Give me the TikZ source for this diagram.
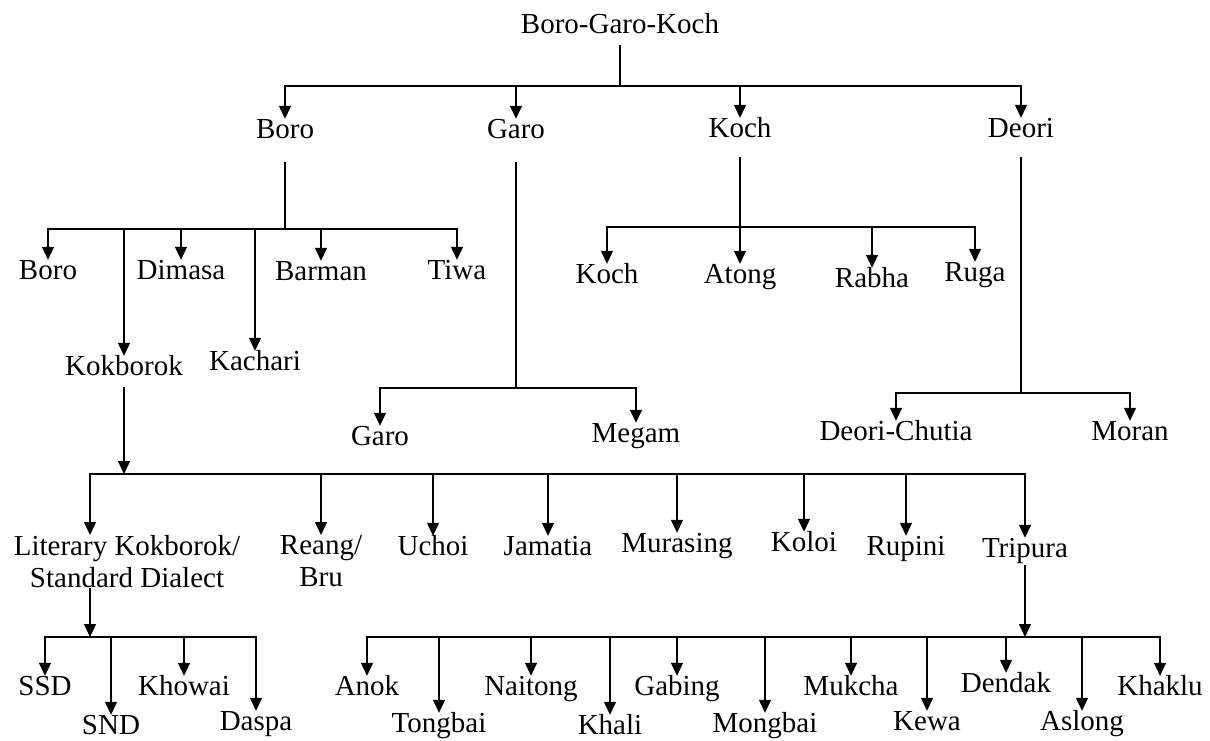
\documentclass[tikz,border=0pt]{standalone}
\usepackage{fontspec}
\setmainfont{Liberation Serif}
\usetikzlibrary{arrows.meta}
\tikzstyle{arrow} = [line width=1.3pt,-{Triangle[width=12pt,length=13pt]}]
\tikzstyle{stem} = [line width=1.3pt]
\tikzstyle{lang} = [anchor=base, inner sep=0pt, text height=19pt, text depth=6pt]
\tikzstyle{lang_2} = [anchor=north, inner sep=0pt, align=center]

\begin{document}
\begin{tikzpicture}[x=1pt, y=-1pt, font=\fontsize{29}{32}\selectfont]
			\useasboundingbox (0,0) rectangle (1210,740);
			% Familia e ramos principais
			\node (BGK) [lang] at (620,33) {Boro-Garo-Koch};
			\node (Boro_1) [lang] at (285,138) {Boro};
			\node (Garo_1) [lang] at (516,138) {Garo};
			\node (Koch_1) [lang] at (740,137) {Koch};
			\node (Deori_1) [lang] at (1021,137) {Deori};

			% Ramo Boro
			\node (Boro_2) [lang] at (48,279) {Boro};
			\node (Dimasa) [lang] at (181,279) {Dimasa};
			\node (Barman) [lang] at (321,280) {Barman};
			\node (Tiwa) [lang] at (457,279) {Tiwa};
			\node (Kokborok) [lang] at (124,375) {Kokborok};
			\node (Kachari) [lang] at (255,370) {Kachari};

			% Ramo Garo e Koch
			\node (Garo_2) [lang] at (380,445) {Garo};
			\node (Megam) [lang] at (636,442) {Megam};
			\node (Koch_2) [lang] at (607,283) {Koch};
			\node (Atong) [lang] at (740,283) {Atong};
			\node (Rabha) [lang] at (872,287) {Rabha};
			\node (Ruga) [lang] at (975,281) {Ruga};

			% Ramo Deori
			\node (Deori_Chutia) [lang] at (896,440) {Deori-Chutia};
			\node (Moran) [lang] at (1130,440) {Moran};

			% Dialetos Kokborok
			\node (Literary) [lang_2] at (127,535) {Literary Kokborok/\\Standard Dialect};
			\node (Reang) [lang_2] at (321,535) {Reang/\\Bru};
			\node (Uchoi) [lang] at (433,555) {Uchoi};
			\node (Jamatia) [lang] at (548,555) {Jamatia};
			\node (Murasing) [lang] at (677,552) {Murasing};
			\node (Koloi) [lang] at (804,551) {Koloi};
			\node (Rupini) [lang] at (906,555) {Rupini};
			\node (Tripura) [lang] at (1025,557) {Tripura};

			% Subdialetos
			\node (SSD) [lang] at (45,695) {SSD};
			\node (SND) [lang] at (111,734) {SND};
			\node (Khowai) [lang] at (184,695) {Khowai};
			\node (Daspa) [lang] at (256,730) {Daspa};
			\node (Anok) [lang] at (367,695) {Anok};
			\node (Tongbai) [lang] at (439,732) {Tongbai};
			\node (Naitong) [lang] at (531,695) {Naitong};
			\node (Khali) [lang] at (610,734) {Khali};
			\node (Gabing) [lang] at (677,695) {Gabing};
			\node (Mongbai) [lang] at (765,732) {Mongbai};
			\node (Mukcha) [lang] at (851,695) {Mukcha};
			\node (Kewa) [lang] at (927,730) {Kewa};
			\node (Dendak) [lang] at (1006,692) {Dendak};
			\node (Aslong) [lang] at (1082,730) {Aslong};
			\node (Khaklu) [lang] at (1160,695) {Khaklu};

			% Barras
			\coordinate (topBar) at (620,86);
			\coordinate (boroBar) at (285,229);
			\coordinate (garoBar) at (516,388);
			\coordinate (kochBar) at (740,227);
			\coordinate (deoriBar) at (1021,393);
			\coordinate (kokBar) at (124,474);
			\coordinate (litBar) at (90,637);
			\coordinate (tripBar) at (1025,637);

			% Connections
			\draw [stem, shorten <=6pt] (BGK) -- (topBar);
			\draw [arrow] (topBar) -| (Boro_1);
			\draw [arrow] (topBar) -| (Garo_1);
			\draw [arrow] (topBar) -| (Koch_1);
			\draw [arrow] (topBar) -| (Deori_1);

			\draw [stem, shorten <=18pt] (Boro_1) -- (boroBar);
			\draw [arrow] (boroBar) -| (Boro_2);
			\draw [arrow] (boroBar) -| (Dimasa);
			\draw [arrow] (boroBar) -| (Barman);
			\draw [arrow] (boroBar) -| (Tiwa);
			\draw [arrow] (boroBar) -| (Kokborok);
			\draw [arrow] (boroBar) -| (Kachari);

			\draw [stem, shorten <=18pt] (Garo_1) -- (garoBar);
			\draw [arrow] (garoBar) -| (Garo_2);
			\draw [arrow] (garoBar) -| (Megam);

			\draw [stem, shorten <=14pt] (Koch_1) -- (kochBar);
			\draw [arrow] (kochBar) -| (Koch_2);
			\draw [arrow] (kochBar) -| (Atong);
			\draw [arrow] (kochBar) -| (Rabha);
			\draw [arrow] (kochBar) -| (Ruga);

			\draw [stem, shorten <=14pt] (Deori_1) -- (deoriBar);
			\draw [arrow] (deoriBar) -| (Deori_Chutia);
			\draw [arrow] (deoriBar) -| (Moran);

			\draw [arrow, shorten <=6pt] (Kokborok) -- (kokBar);
			\draw [arrow] (kokBar) -| (litBar |- Literary.north);
			\draw [arrow] (kokBar) -| (Reang);
			\draw [arrow] (kokBar) -| (Uchoi);
			\draw [arrow] (kokBar) -| (Jamatia);
			\draw [arrow] (kokBar) -| (Murasing);
			\draw [arrow] (kokBar) -| (Koloi);
			\draw [arrow] (kokBar) -| (Rupini);
			\draw [arrow] (kokBar) -| (Tripura);

			% Final Connections
			\draw [arrow] (litBar |- Literary.south) -- (litBar);
			\draw [arrow] (litBar) -| (SSD);
			\draw [arrow] (litBar) -| (SND);
			\draw [arrow] (litBar) -| (Khowai);
			\draw [arrow] (litBar) -| (Daspa);

			\draw [arrow, shorten <=2pt] (Tripura) -- (tripBar);
			\draw [arrow] (tripBar) -| (Anok);
			\draw [arrow] (tripBar) -| (Tongbai);
			\draw [arrow] (tripBar) -| (Naitong);
			\draw [arrow] (tripBar) -| (Khali);
			\draw [arrow] (tripBar) -| (Gabing);
			\draw [arrow] (tripBar) -| (Mongbai);
			\draw [arrow] (tripBar) -| (Mukcha);
			\draw [arrow] (tripBar) -| (Kewa);
			\draw [arrow] (tripBar) -| (Dendak);
			\draw [arrow] (tripBar) -| (Aslong);
			\draw [arrow] (tripBar) -| (Khaklu);

		\end{tikzpicture}
\end{document}
